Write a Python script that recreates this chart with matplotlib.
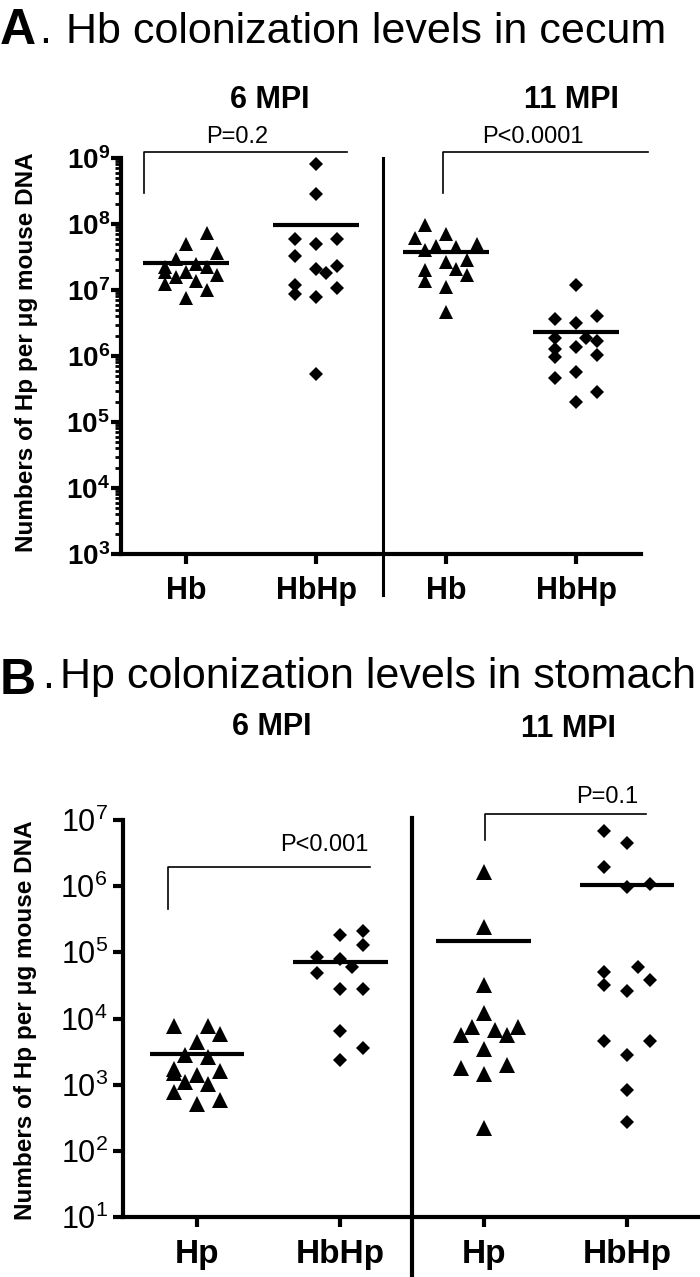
import matplotlib
matplotlib.use('Agg')
import matplotlib.pyplot as plt
from matplotlib.ticker import LogLocator, FuncFormatter, NullFormatter
import numpy as np

plt.rcParams['font.family'] = ['Liberation Sans', 'DejaVu Sans']
plt.rcParams['mathtext.fontset'] = 'custom'
plt.rcParams['mathtext.rm'] = 'Liberation Sans'
plt.rcParams['mathtext.bf'] = 'Liberation Sans:bold'

# ---- panel A : Hb colonization levels in cecum ----
a_labels = ['Hb', 'HbHp', 'Hb', 'HbHp']
a_6_hb = [7.2e7, 4.9e7, 3.6e7, 3.0e7, 2.25e7, 2.5e7, 2.25e7, 1.85e7, 1.58e7,
          1.67e7, 1.25e7, 1.37e7, 1.0e7, 7.6e6, 1.85e7]
a_6_hb_slot = [2, 0, 3, -1, -2, 1, 2, 0, -1, 3, -2, 1, 2, 0, -2]
a_6_hbhp = [8.1e8, 2.8e8, 6.0e7, 5.0e7, 6.0e7, 3.3e7, 2.35e7, 2.05e7, 1.8e7,
            1.18e7, 8.7e6, 7.7e6, 1.08e7, 5.4e5]
a_6_hbhp_slot = [0, 0, -2, 0, 2, -2, 2, 0, 1, -2, -2, 0, 2, 0]
a_11_hb = [9.5e7, 6.2e7, 7.0e7, 5.0e7, 4.6e7, 4.5e7, 4.0e7, 2.7e7, 2.8e7,
           2.0e7, 2.05e7, 1.67e7, 1.38e7, 1.1e7, 4.6e6]
a_11_hb_slot = [-2, -3, 0, 3, -1, 1, -2, 0, 2, -2, 1, 2, -2, 0, 0]
a_11_hbhp = [1.18e7, 3.6e6, 4.0e6, 3.2e6, 1.9e6, 1.9e6, 1.7e6, 1.28e6, 1.35e6,
             9.5e5, 1.04e6, 5.7e5, 4.6e5, 2.8e5, 2.0e5]
a_11_hbhp_slot = [0, -2, 2, 0, 1, -2, 2, -2, 0, -2, 2, 0, -2, 2, 0]
a_means = [2.6e7, 9.7e7, 3.7e7, 2.3e6]
a_pvals = ['P=0.2', 'P<0.0001']

# ---- panel B : Hp colonization levels in stomach ----
b_labels = ['Hp', 'HbHp', 'Hp', 'HbHp']
b_6_hp = [7.6e3, 7.6e3, 5.9e3, 4.4e3, 2.8e3, 2.6e3, 1.75e3, 1.6e3, 1.5e3,
          1.38e3, 1.1e3, 1.04e3, 7.8e2, 5.1e2, 5.8e2]
b_6_hp_slot = [-2, 1, 2, 0, -1, 1, -2, 2, -2, 0, -1, 1, -2, 0, 2]
b_6_hbhp = [1.8e5, 2.1e5, 1.29e5, 8.6e4, 7.8e4, 5.9e4, 4.8e4, 2.75e4, 2.8e4,
            6.5e3, 3.6e3, 2.4e3]
b_6_hbhp_slot = [0, 2, 2, -2, 0, 1, -2, 0, 2, 0, 2, 0]
b_11_hp = [1.65e6, 2.4e5, 3.2e4, 1.2e4, 7.4e3, 6.8e3, 7.4e3, 5.7e3, 5.6e3,
           3.5e3, 1.8e3, 2.0e3, 1.45e3, 2.2e2]
b_11_hp_slot = [0, 0, 0, 0, -1, 1, 3, -2, 2, 0, -2, 2, 0, 0]
b_11_hbhp = [6.8e6, 4.5e6, 1.96e6, 9.8e5, 1.07e6, 5.9e4, 5.1e4, 3.8e4, 3.2e4,
             2.6e4, 4.5e3, 4.5e3, 2.8e3, 8.4e2, 2.7e2]
b_11_hbhp_slot = [-2, 0, -2, 0, 2, 1, -2, 2, -2, 0, -2, 2, 0, 0, 0]
b_means = [2.9e3, 7.2e4, 1.48e5, 1.05e6]
b_pvals = ['P<0.001', 'P=0.1']

ylab = 'Numbers of Hp per \u03bcg mouse DNA'

W, H = 700, 1277
fig = plt.figure(figsize=(W / 100, H / 100), dpi=100)


def fx(px):
    return px / W


def fy(py):
    return 1 - py / H


def panel(ax, groups, means, ms_tri, ms_dia):
    for i, (vals, slots) in enumerate(groups):
        pos = i + 1
        xs = pos + np.array(slots) * 0.08
        if i % 2 == 0:
            ax.plot(xs, vals, '^', color='k', ms=ms_tri, mew=0, clip_on=False)
        else:
            ax.plot(xs, vals, 'D', color='k', ms=ms_dia, mew=0, clip_on=False)
        ax.hlines(means[i], pos - 0.33, pos + 0.33, color='k', lw=3)
    ax.set_yscale('log')
    for s in ['top', 'right']:
        ax.spines[s].set_visible(False)
    for s in ['left', 'bottom']:
        ax.spines[s].set_linewidth(3)
    ax.yaxis.set_minor_locator(LogLocator(base=10, subs=np.arange(2, 10)))
    ax.yaxis.set_minor_formatter(NullFormatter())
    ax.tick_params(axis='y', which='major', length=7, width=3)
    ax.tick_params(axis='y', which='minor', length=4, width=2)
    ax.set_xticks([1, 2, 3, 4])


# panel A axes
axA = fig.add_axes([fx(121), fy(554), fx(641 - 121), (554 - 158) / H])
panel(axA, [(a_6_hb, a_6_hb_slot), (a_6_hbhp, a_6_hbhp_slot),
            (a_11_hb, a_11_hb_slot), (a_11_hbhp, a_11_hbhp_slot)],
      a_means, 10, 7)
axA.set_xlim(0.5, 4.5)
axA.set_ylim(1e3, 1e9)
axA.yaxis.set_major_locator(LogLocator(base=10, numticks=10))
axA.yaxis.set_major_formatter(FuncFormatter(
    lambda v, _: r'$\mathbf{10^{%d}}$' % round(np.log10(v))))
axA.tick_params(axis='y', which='major', labelsize=20, pad=1)
axA.set_xticklabels(a_labels, fontsize=22, fontweight='bold')
axA.tick_params(axis='x', length=7, width=3, pad=9)
axA.plot([2.515, 2.515], [-0.104, 1.0], color='k', lw=2.2,
         transform=axA.get_xaxis_transform(), clip_on=False)
# significance brackets
axA.plot([0.68, 0.68, 2.24], [10**8.47, 10**9.09, 10**9.09], color='k', lw=1.2, clip_on=False)
axA.plot([2.98, 2.98, 4.55], [10**8.47, 10**9.09, 10**9.09], color='k', lw=1.2, clip_on=False)
axA.text(1.39, 10**9.32, a_pvals[0], fontsize=17, ha='center', va='center')
axA.text(3.67, 10**9.32, a_pvals[1], fontsize=17, ha='center', va='center')

# panel B axes
axB = fig.add_axes([fx(123), fy(1217), fx(700 - 123), (1217 - 820) / H])
panel(axB, [(b_6_hp, b_6_hp_slot), (b_6_hbhp, b_6_hbhp_slot),
            (b_11_hp, b_11_hp_slot), (b_11_hbhp, b_11_hbhp_slot)],
      b_means, 11, 7.5)
axB.set_xlim(0.484, 4.51)
axB.set_ylim(1e1, 1e7)
axB.yaxis.set_major_locator(LogLocator(base=10, numticks=10))
axB.yaxis.set_major_formatter(FuncFormatter(
    lambda v, _: r'$\mathrm{10^{%d}}$' % round(np.log10(v))))
axB.tick_params(axis='y', which='major', labelsize=22, pad=4)
axB.set_xticklabels(b_labels, fontsize=24, fontweight='bold')
axB.tick_params(axis='x', length=7, width=3, pad=9)
axB.plot([2.50, 2.50], [-0.152, 1.005], color='k', lw=3,
         transform=axB.get_xaxis_transform(), clip_on=False)
axB.plot([0.80, 0.80, 2.21], [10**5.65, 10**6.29, 10**6.29], color='k', lw=1.2, clip_on=False)
axB.plot([3.01, 3.01, 4.13], [10**6.70, 10**7.09, 10**7.09], color='k', lw=1.2, clip_on=False)
axB.text(1.887, 10**6.62, b_pvals[0], fontsize=17, ha='center', va='center')
axB.text(3.86, 10**7.35, b_pvals[1], fontsize=17, ha='center', va='center')

# titles and headers
fig.text(fx(0), fy(44), 'A', fontsize=36, fontweight='bold', va='baseline')
fig.text(fx(39), fy(43), '.', fontsize=31, va='baseline')
fig.text(fx(66), fy(43), 'Hb colonization levels in cecum', fontsize=31, va='baseline')
fig.text(fx(0), fy(694), 'B', fontsize=36, fontweight='bold', va='baseline')
fig.text(fx(42), fy(688), '.', fontsize=31, va='baseline')
fig.text(fx(60), fy(688), 'Hp colonization levels in stomach', fontsize=31, va='baseline')

for (x, y, s) in [(270, 100, '6 MPI'), (571, 100, '11 MPI'),
                  (272, 727, '6 MPI'), (568, 729, '11 MPI')]:
    fig.text(fx(x), fy(y), s, fontsize=22, fontweight='bold', ha='center', va='center')

fig.text(fx(27), fy(352), ylab, fontsize=17.5, fontweight='bold', rotation=90,
         ha='center', va='center')
fig.text(fx(26), fy(1020), ylab, fontsize=17.5, fontweight='bold', rotation=90,
         ha='center', va='center')

fig.savefig('out.png', dpi=100, facecolor='white')
